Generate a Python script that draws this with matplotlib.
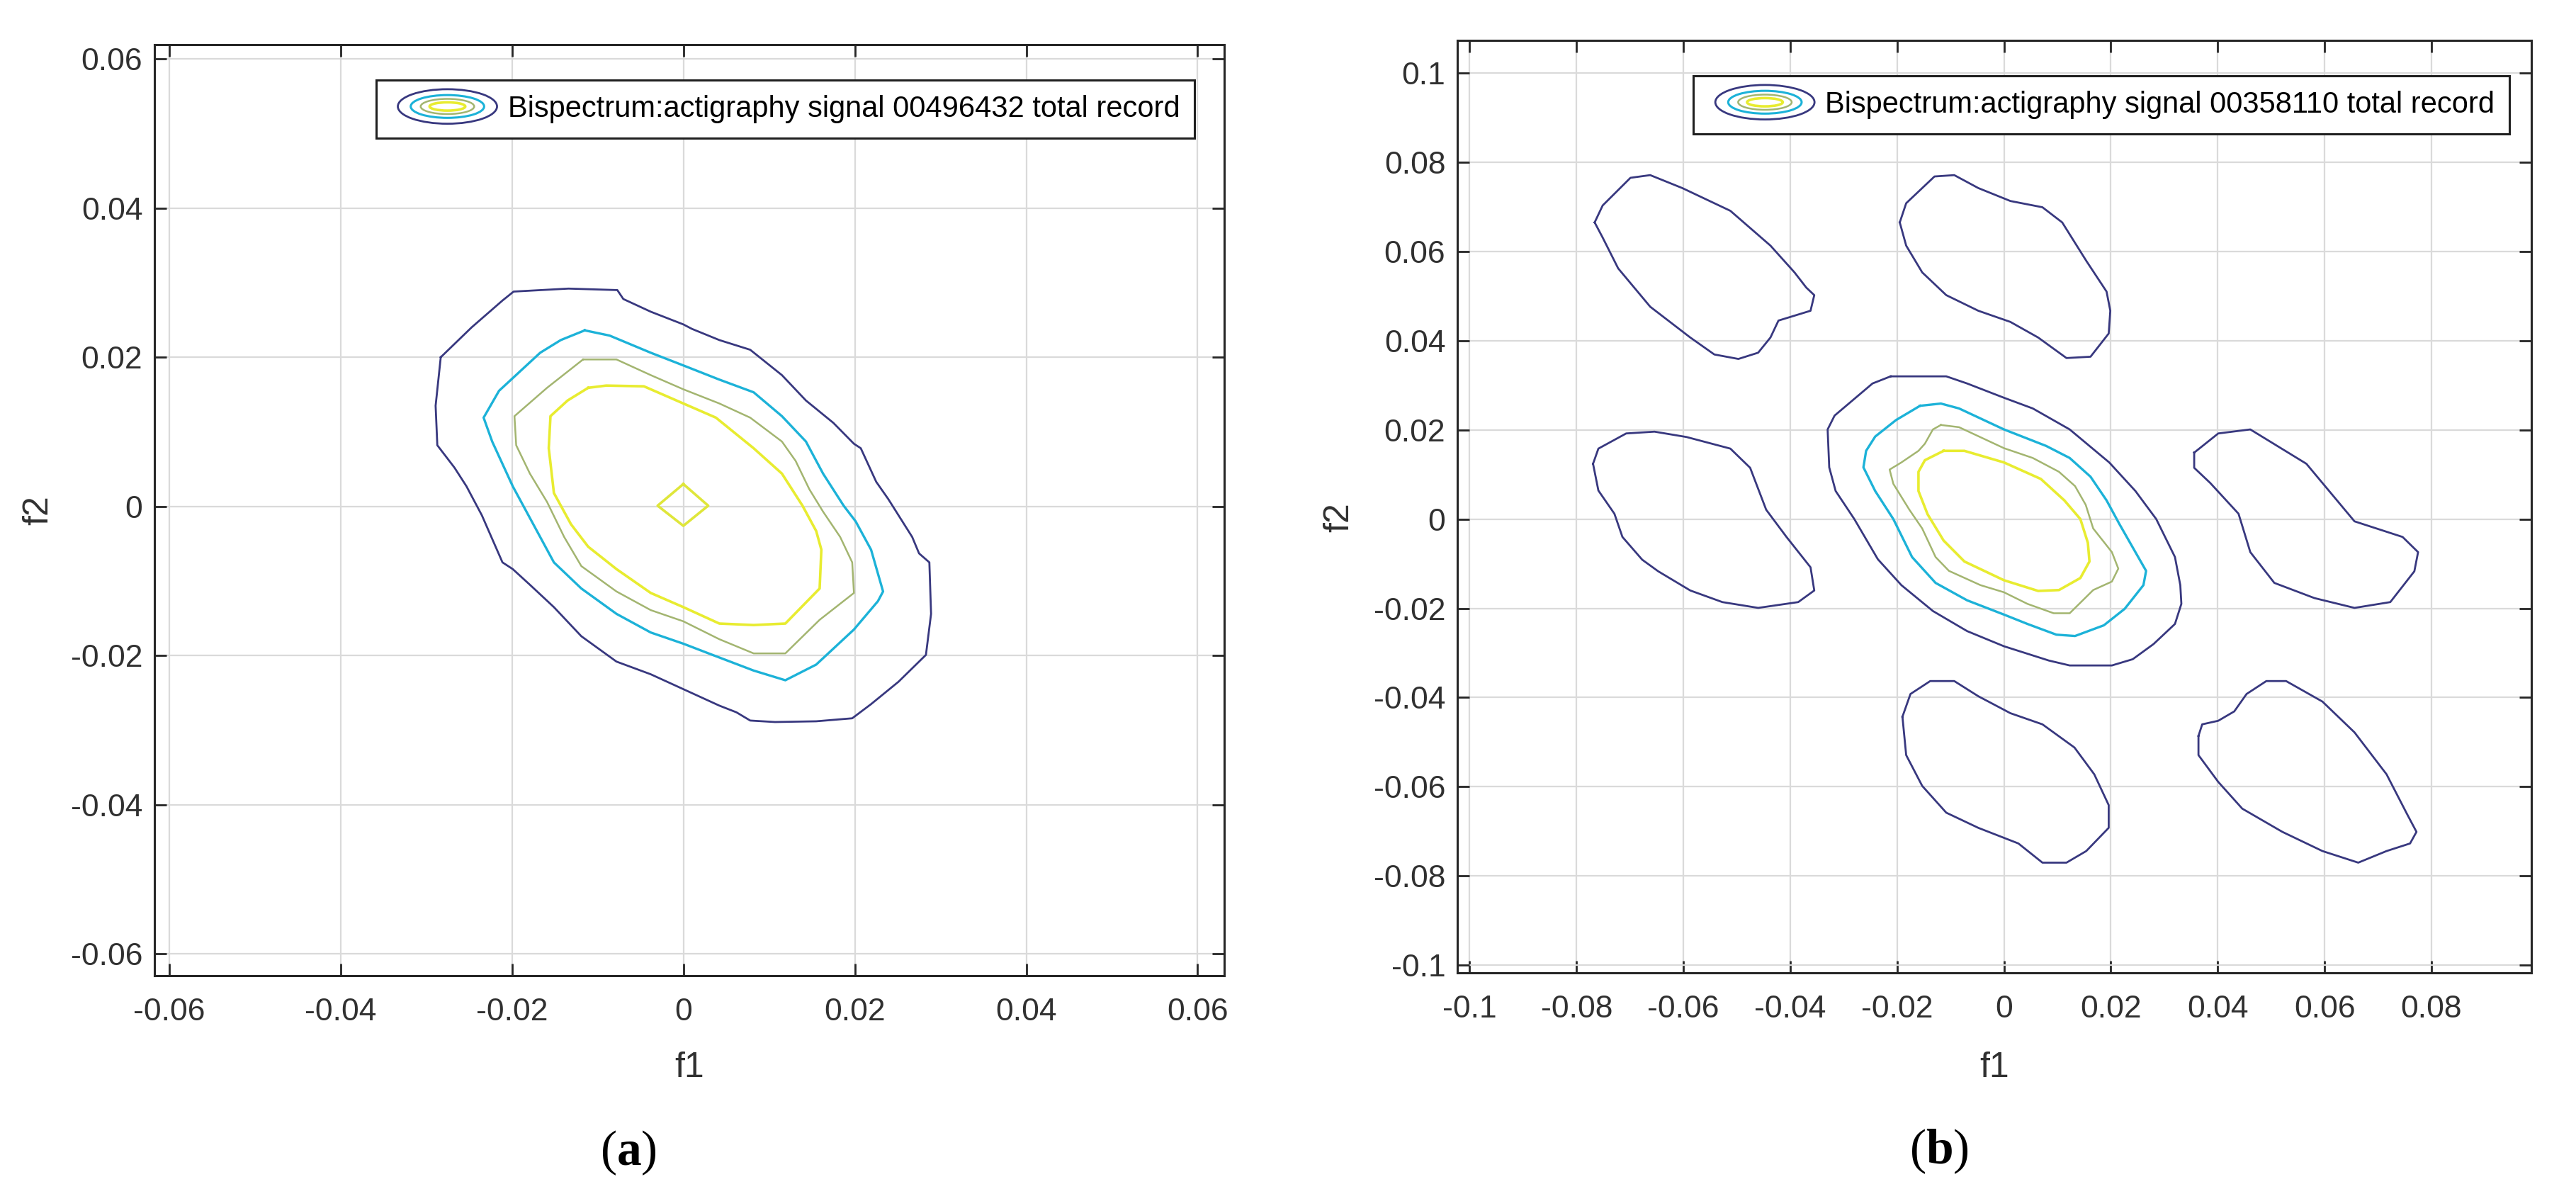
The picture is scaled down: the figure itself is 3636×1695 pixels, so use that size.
import matplotlib
matplotlib.use("Agg")
import matplotlib.pyplot as plt
from matplotlib.legend_handler import HandlerBase
from matplotlib.patches import Ellipse

# ---------------- data ----------------
# Panel (a): contour lines, (f1, f2) vertices per level
a_level1 = [(-0.0283, 0.0200), (-0.0247, 0.0240), (-0.0211, 0.0276), (-0.0198, 0.0288), (-0.0134, 0.0292),
            (-0.0077, 0.0290), (-0.0070, 0.0278), (-0.0038, 0.0261), (0.0000, 0.0244), (0.0010, 0.0238),
            (0.0042, 0.0223), (0.0078, 0.0210), (0.0115, 0.0176), (0.0143, 0.0142), (0.0175, 0.0112),
            (0.0199, 0.0084), (0.0207, 0.0078), (0.0225, 0.0033), (0.0239, 0.0010), (0.0267, -0.0041),
            (0.0275, -0.0063), (0.0287, -0.0075), (0.0289, -0.0144), (0.0283, -0.0199), (0.0251, -0.0235),
            (0.0219, -0.0265), (0.0197, -0.0284), (0.0155, -0.0288), (0.0107, -0.0289), (0.0078, -0.0287),
            (0.0062, -0.0276), (0.0042, -0.0267), (0.0002, -0.0246), (-0.0038, -0.0225), (-0.0078, -0.0208),
            (-0.0119, -0.0174), (-0.0151, -0.0135), (-0.0179, -0.0105), (-0.0199, -0.0084), (-0.0211, -0.0075),
            (-0.0235, -0.0012), (-0.0253, 0.0027), (-0.0267, 0.0052), (-0.0279, 0.0070), (-0.0287, 0.0082),
            (-0.0289, 0.0135), (-0.0283, 0.0200)]
a_level2 = [(-0.0115, 0.0236), (-0.0086, 0.0229), (-0.0038, 0.0206), (0.0000, 0.0189), (0.0042, 0.0170),
            (0.0082, 0.0153), (0.0115, 0.0121), (0.0143, 0.0087), (0.0163, 0.0044), (0.0187, 0.0001),
            (0.0201, -0.0020), (0.0219, -0.0058), (0.0233, -0.0114), (0.0227, -0.0127), (0.0199, -0.0165),
            (0.0155, -0.0212), (0.0119, -0.0233), (0.0082, -0.0220), (0.0034, -0.0199), (0.0000, -0.0184),
            (-0.0038, -0.0169), (-0.0078, -0.0144), (-0.0119, -0.0110), (-0.0151, -0.0075), (-0.0175, -0.0024),
            (-0.0199, 0.0027), (-0.0223, 0.0087), (-0.0233, 0.0119), (-0.0215, 0.0155), (-0.0199, 0.0172),
            (-0.0167, 0.0206), (-0.0143, 0.0223), (-0.0115, 0.0236)]
a_level3 = [(-0.0117, 0.0197), (-0.0078, 0.0197), (-0.0038, 0.0176), (0.0000, 0.0157), (0.0042, 0.0138),
            (0.0078, 0.0119), (0.0115, 0.0087), (0.0131, 0.0061), (0.0147, 0.0023), (0.0163, -0.0007),
            (0.0183, -0.0041), (0.0197, -0.0075), (0.0199, -0.0116), (0.0159, -0.0152), (0.0119, -0.0197),
            (0.0082, -0.0197), (0.0042, -0.0178), (0.0000, -0.0154), (-0.0038, -0.0139), (-0.0078, -0.0114),
            (-0.0119, -0.0080), (-0.0139, -0.0041), (-0.0159, 0.0006), (-0.0179, 0.0044), (-0.0195, 0.0082),
            (-0.0197, 0.0121), (-0.0159, 0.0159), (-0.0117, 0.0197)]
a_level4 = [(-0.0111, 0.0159), (-0.0090, 0.0162), (-0.0046, 0.0161), (0.0000, 0.0138), (0.0038, 0.0119),
            (0.0082, 0.0078), (0.0115, 0.0044), (0.0139, 0.0001), (0.0155, -0.0033), (0.0161, -0.0058),
            (0.0159, -0.0110), (0.0119, -0.0157), (0.0082, -0.0159), (0.0042, -0.0157), (0.0000, -0.0135),
            (-0.0038, -0.0116), (-0.0078, -0.0084), (-0.0111, -0.0054), (-0.0131, -0.0024), (-0.0151, 0.0018),
            (-0.0157, 0.0078), (-0.0155, 0.0121), (-0.0135, 0.0142), (-0.0111, 0.0159)]
a_level5 = [(0.0000, 0.0030), (0.0029, 0.0001), (0.0000, -0.0026), (-0.0030, 0.0001), (0.0000, 0.0030)]

# Panel (b): contour lines
b_level1_center = [(-0.0212, 0.0320), (-0.0108, 0.0320), (-0.0069, 0.0304), (0.0000, 0.0272), (0.0054, 0.0248),
                   (0.0123, 0.0201), (0.0197, 0.0127), (0.0246, 0.0063), (0.0285, 0.0000), (0.0320, -0.0085),
                   (0.0330, -0.0148), (0.0332, -0.0190), (0.0320, -0.0235), (0.0280, -0.0280), (0.0241, -0.0314),
                   (0.0202, -0.0328), (0.0123, -0.0328), (0.0084, -0.0317), (0.0000, -0.0285), (-0.0069, -0.0251),
                   (-0.0133, -0.0206), (-0.0192, -0.0148), (-0.0236, -0.0090), (-0.0280, 0.0000), (-0.0315, 0.0063),
                   (-0.0327, 0.0116), (-0.0330, 0.0201), (-0.0317, 0.0232), (-0.0246, 0.0304), (-0.0212, 0.0320)]
b_level1_topleft = [(-0.0766, 0.0665), (-0.0751, 0.0703), (-0.0699, 0.0765), (-0.0662, 0.0771), (-0.0602, 0.0742),
                    (-0.0512, 0.0691), (-0.0437, 0.0613), (-0.0392, 0.0553), (-0.0370, 0.0519), (-0.0355, 0.0502),
                    (-0.0362, 0.0467), (-0.0422, 0.0445), (-0.0437, 0.0407), (-0.0460, 0.0373), (-0.0497, 0.0359),
                    (-0.0542, 0.0369), (-0.0587, 0.0407), (-0.0662, 0.0476), (-0.0722, 0.0562), (-0.0751, 0.0631),
                    (-0.0766, 0.0665)]
b_level1_topcenter = [(-0.0195, 0.0665), (-0.0183, 0.0708), (-0.0130, 0.0768), (-0.0093, 0.0771), (-0.0048, 0.0742),
                      (0.0012, 0.0713), (0.0072, 0.0699), (0.0109, 0.0665), (0.0154, 0.0579), (0.0192, 0.0510),
                      (0.0199, 0.0467), (0.0196, 0.0416), (0.0162, 0.0364), (0.0117, 0.0361), (0.0064, 0.0407),
                      (0.0012, 0.0442), (-0.0048, 0.0467), (-0.0108, 0.0502), (-0.0153, 0.0553), (-0.0183, 0.0613),
                      (-0.0195, 0.0665)]
b_level1_midleft = [(-0.0769, 0.0124), (-0.0759, 0.0158), (-0.0707, 0.0192), (-0.0654, 0.0196), (-0.0594, 0.0184),
                    (-0.0512, 0.0158), (-0.0475, 0.0115), (-0.0445, 0.0021), (-0.0407, -0.0040), (-0.0362, -0.0108),
                    (-0.0355, -0.0160), (-0.0385, -0.0186), (-0.0460, -0.0199), (-0.0527, -0.0186), (-0.0587, -0.0160),
                    (-0.0647, -0.0117), (-0.0677, -0.0091), (-0.0714, -0.0040), (-0.0729, 0.0012), (-0.0759, 0.0064),
                    (-0.0769, 0.0124)]
b_level1_midright = [(0.0356, 0.0149), (0.0401, 0.0192), (0.0461, 0.0201), (0.0566, 0.0124), (0.0656, -0.0005),
                     (0.0746, -0.0040), (0.0775, -0.0074), (0.0768, -0.0117), (0.0723, -0.0186), (0.0656, -0.0199),
                     (0.0581, -0.0177), (0.0506, -0.0143), (0.0461, -0.0074), (0.0439, 0.0012), (0.0386, 0.0081),
                     (0.0356, 0.0115), (0.0356, 0.0149)]
b_level1_botcenter = [(-0.0190, -0.0443), (-0.0175, -0.0392), (-0.0138, -0.0363), (-0.0093, -0.0363), (-0.0048, -0.0397),
                      (0.0012, -0.0435), (0.0072, -0.0460), (0.0132, -0.0512), (0.0169, -0.0572), (0.0196, -0.0641),
                      (0.0196, -0.0692), (0.0154, -0.0744), (0.0117, -0.0770), (0.0072, -0.0770), (0.0027, -0.0727),
                      (-0.0048, -0.0692), (-0.0108, -0.0658), (-0.0153, -0.0598), (-0.0183, -0.0529), (-0.0190, -0.0443)]
b_level1_botright = [(0.0364, -0.0486), (0.0371, -0.0460), (0.0401, -0.0452), (0.0431, -0.0431), (0.0454, -0.0392),
                     (0.0491, -0.0363), (0.0528, -0.0363), (0.0596, -0.0409), (0.0656, -0.0478), (0.0716, -0.0572),
                     (0.0753, -0.0658), (0.0772, -0.0701), (0.0760, -0.0727), (0.0716, -0.0744), (0.0663, -0.0770),
                     (0.0596, -0.0744), (0.0521, -0.0701), (0.0446, -0.0649), (0.0401, -0.0589), (0.0364, -0.0529),
                     (0.0364, -0.0486)]
b_level2 = [(-0.0157, 0.0254), (-0.0118, 0.0259), (-0.0084, 0.0248), (0.0000, 0.0201), (0.0079, 0.0164),
            (0.0123, 0.0137), (0.0162, 0.0095), (0.0192, 0.0042), (0.0216, -0.0011), (0.0246, -0.0074),
            (0.0266, -0.0116), (0.0261, -0.0148), (0.0226, -0.0201), (0.0187, -0.0238), (0.0133, -0.0262),
            (0.0098, -0.0259), (0.0044, -0.0235), (0.0000, -0.0214), (-0.0069, -0.0182), (-0.0128, -0.0143),
            (-0.0172, -0.0085), (-0.0207, 0.0000), (-0.0241, 0.0063), (-0.0263, 0.0116), (-0.0258, 0.0153),
            (-0.0241, 0.0185), (-0.0202, 0.0222), (-0.0157, 0.0254)]
b_level3 = [(-0.0118, 0.0211), (-0.0084, 0.0206), (0.0000, 0.0159), (0.0054, 0.0137), (0.0103, 0.0106),
            (0.0133, 0.0074), (0.0153, 0.0032), (0.0167, -0.0021), (0.0202, -0.0074), (0.0214, -0.0111),
            (0.0202, -0.0140), (0.0167, -0.0159), (0.0123, -0.0211), (0.0093, -0.0211), (0.0044, -0.0190),
            (0.0000, -0.0164), (-0.0044, -0.0148), (-0.0103, -0.0116), (-0.0128, -0.0085), (-0.0153, -0.0021),
            (-0.0177, 0.0021), (-0.0207, 0.0079), (-0.0214, 0.0111), (-0.0192, 0.0127), (-0.0160, 0.0153),
            (-0.0148, 0.0169), (-0.0133, 0.0201), (-0.0118, 0.0211)]
b_level4 = [(-0.0113, 0.0153), (-0.0074, 0.0153), (0.0000, 0.0127), (0.0069, 0.0090), (0.0113, 0.0042),
            (0.0143, 0.0000), (0.0157, -0.0053), (0.0160, -0.0095), (0.0143, -0.0132), (0.0103, -0.0159),
            (0.0064, -0.0161), (0.0000, -0.0137), (-0.0074, -0.0095), (-0.0113, -0.0048), (-0.0143, 0.0011),
            (-0.0160, 0.0063), (-0.0160, 0.0106), (-0.0148, 0.0132), (-0.0113, 0.0153)]

a_ticks = [-0.06, -0.04, -0.02, 0, 0.02, 0.04, 0.06]
a_ticklabels = ["-0.06", "-0.04", "-0.02", "0", "0.02", "0.04", "0.06"]
b_xticks = [-0.1, -0.08, -0.06, -0.04, -0.02, 0, 0.02, 0.04, 0.06, 0.08]
b_xticklabels = ["-0.1", "-0.08", "-0.06", "-0.04", "-0.02", "0", "0.02", "0.04", "0.06", "0.08"]
b_yticks = [-0.1, -0.08, -0.06, -0.04, -0.02, 0, 0.02, 0.04, 0.06, 0.08, 0.1]
b_yticklabels = ["-0.1", "-0.08", "-0.06", "-0.04", "-0.02", "0", "0.02", "0.04", "0.06", "0.08", "0.1"]

legend_a = "Bispectrum:actigraphy signal 00496432 total record"
legend_b = "Bispectrum:actigraphy signal 00358110 total record"

# ---------------- style ----------------
C_NAVY = "#38387f"
C_CYAN = "#1cb2d8"
C_GREEN = "#a3b570"
C_YELLOW = "#e8ec30"
C_YELLOW2 = "#dfe63a"
AXCOL = "#262626"
FS = 32
LEG_FS = 30

plt.rcParams["font.family"] = ["Liberation Sans", "DejaVu Sans"]
plt.rcParams["mathtext.fontset"] = "custom"
plt.rcParams["mathtext.rm"] = "Liberation Serif"
plt.rcParams["mathtext.bf"] = "Liberation Serif:bold"

W, H = 3636, 1695
fig = plt.figure(figsize=(W / 100, H / 100), dpi=100)


class IconHandle:
    pass


class HandlerIcon(HandlerBase):
    def create_artists(self, legend, orig_handle, xdescent, ydescent, width, height, fontsize, trans):
        cx = width / 2 - xdescent
        cy = height / 2 - ydescent
        ew = width * 0.875
        eh = height * 1.67
        specs = [(1.0, 1.0, C_NAVY, 2.0), (0.74, 0.66, C_CYAN, 2.2), (0.54, 0.44, C_GREEN, 1.8),
                 (0.36, 0.24, C_YELLOW, 2.6)]
        arts = []
        for fw, fh, col, lw in specs:
            e = Ellipse((cx, cy), ew * fw, eh * fh, fill=False, edgecolor=col, lw=lw, transform=trans)
            arts.append(e)
        return arts


def style_axes(ax, xlim, ylim, xt, xtl, yt, ytl):
    ax.set_xlim(*xlim)
    ax.set_ylim(*ylim)
    ax.set_xticks(xt)
    ax.set_xticklabels(xtl)
    ax.set_yticks(yt)
    ax.set_yticklabels(ytl)
    ax.grid(True, color="#dadada", lw=1.6)
    ax.set_axisbelow(True)
    ax.tick_params(direction="in", length=12, width=2, colors=AXCOL, labelsize=FS,
                   top=True, right=True)
    ax.tick_params(axis="x", pad=22)
    ax.tick_params(axis="y", pad=12)
    for s in ax.spines.values():
        s.set_linewidth(2.2)
        s.set_color(AXCOL)
    for lab in ax.get_xticklabels() + ax.get_yticklabels():
        lab.set_color("#303030")


def draw(ax, pts, color, lw=2.0):
    xs = [p[0] for p in pts]
    ys = [p[1] for p in pts]
    ax.plot(xs, ys, color=color, lw=lw, solid_joinstyle="round")


def add_legend(ax, text, right_px, top_px, ax_left, ax_bottom, ax_w, ax_h):
    leg = ax.legend([IconHandle()], [text], handler_map={IconHandle: HandlerIcon()},
                    loc="upper right",
                    bbox_to_anchor=((right_px - ax_left) / ax_w, (ax_bottom - top_px) / ax_h),
                    borderaxespad=0, fontsize=LEG_FS, frameon=True, fancybox=False, framealpha=1,
                    edgecolor="#202020", handlelength=3.84, handleheight=0.7, handletextpad=0.12,
                    borderpad=0.5)
    leg.get_frame().set_linewidth(2.2)
    return leg


# ---- panel (a)
axa = fig.add_axes([218 / W, 1 - 1377 / H, 1510 / W, 1314 / H])
style_axes(axa, (-0.0617, 0.0631), (-0.0629, 0.0619), a_ticks, a_ticklabels, a_ticks, a_ticklabels)
draw(axa, a_level1, C_NAVY)
draw(axa, a_level2, C_CYAN, 2.4)
draw(axa, a_level3, C_GREEN, 1.8)
draw(axa, a_level4, C_YELLOW, 2.6)
draw(axa, a_level5, C_YELLOW2, 2.6)
axa.set_xlabel("f1", fontsize=FS + 4, color="#303030")
axa.set_ylabel("f2", fontsize=FS + 4, color="#303030")
axa.xaxis.set_label_coords(0.5, -(1507 - 1377) / 1314)
axa.xaxis.label.set_va("center")
axa.yaxis.set_label_coords((54 - 218) / 1510, 0.5)
axa.yaxis.label.set_va("center")
add_legend(axa, legend_a, 1686, 113, 218, 1377, 1510, 1314)

# ---- panel (b)
axb = fig.add_axes([2057 / W, 1 - 1373 / H, 1516 / W, 1316 / H])
style_axes(axb, (-0.1023, 0.0987), (-0.1017, 0.1073), b_xticks, b_xticklabels, b_yticks, b_yticklabels)
for lobe in [b_level1_center, b_level1_topleft, b_level1_topcenter, b_level1_midleft,
             b_level1_midright, b_level1_botcenter, b_level1_botright]:
    draw(axb, lobe, C_NAVY)
draw(axb, b_level2, C_CYAN, 2.4)
draw(axb, b_level3, C_GREEN, 1.8)
draw(axb, b_level4, C_YELLOW, 2.6)
axb.set_xlabel("f1", fontsize=FS + 4, color="#303030")
axb.set_ylabel("f2", fontsize=FS + 4, color="#303030")
axb.xaxis.set_label_coords(0.5, -(1507 - 1373) / 1316)
axb.xaxis.label.set_va("center")
axb.yaxis.set_label_coords((1890 - 2057) / 1516, (1373 - 730) / 1316)
axb.yaxis.label.set_va("center")
add_legend(axb, legend_b, 3542, 107, 2057, 1373, 1516, 1316)

# ---- panel captions
fig.text(887 / W, 1 - 1627 / H, r"$\mathrm{(}\mathbf{a}\mathrm{)}$", fontsize=50, ha="center", va="center")
fig.text(2737 / W, 1 - 1625 / H, r"$\mathrm{(}\mathbf{b}\mathrm{)}$", fontsize=50, ha="center", va="center")

fig.savefig("out.png", dpi=100, facecolor="white")
